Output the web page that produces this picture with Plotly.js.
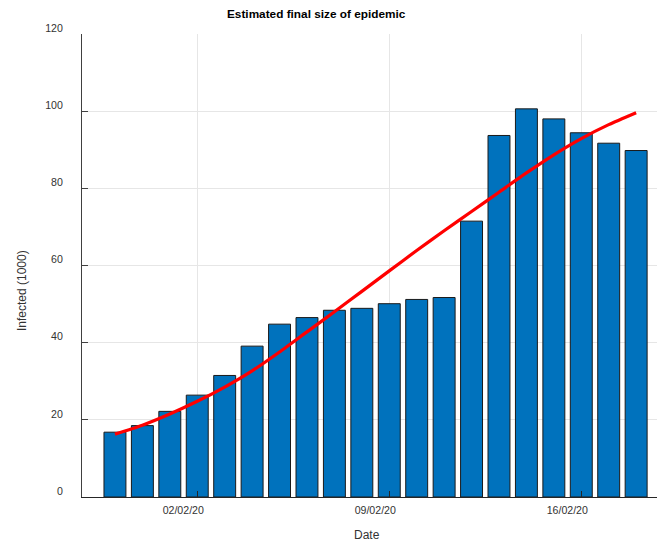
<!DOCTYPE html>
<html>
<head>
<meta charset="utf-8">
<script src="https://cdn.plot.ly/plotly-3.0.1.min.js"></script>
<style>
  html, body { margin: 0; padding: 0; background: #ffffff; }
  #chart { width: 657px; height: 541px; }
</style>
</head>
<body>
<div id="chart"></div>
<script>
// Daily reports, 30 Jan – 18 Feb 2020
const dates = [
  '2020-01-30', '2020-01-31', '2020-02-01', '2020-02-02', '2020-02-03',
  '2020-02-04', '2020-02-05', '2020-02-06', '2020-02-07', '2020-02-08',
  '2020-02-09', '2020-02-10', '2020-02-11', '2020-02-12', '2020-02-13',
  '2020-02-14', '2020-02-15', '2020-02-16', '2020-02-17', '2020-02-18'
];
// Estimated final size of the epidemic on each day (thousands)
const infected = [
  16.8, 18.5, 22.2, 26.4, 31.5, 39.1, 44.8, 46.5, 48.4, 48.9,
  50.1, 51.2, 51.7, 71.5, 93.7, 100.6, 98.0, 94.4, 91.7, 89.8
];
// Smoothed trend (thousands)
const trend = [
  16.3, 18.6, 21.5, 24.8, 28.5, 32.7, 37.6, 42.8, 48.0, 53.3,
  58.6, 63.9, 69.0, 74.0, 79.0, 84.0, 88.7, 92.9, 96.5, 99.6
];
const tickDates = ['2020-02-02', '2020-02-09', '2020-02-16'];
const tickLabels = ['02/02/20', '09/02/20', '16/02/20'];
const yTicks = [0, 20, 40, 60, 80, 100, 120];

const DAY = 86400000;
const FONT = 'Liberation Sans, Arial, Helvetica, sans-serif';

const traces = [
  {
    type: 'bar',
    x: dates,
    y: infected,
    width: dates.map(() => 0.8 * DAY),
    marker: { color: '#0072bd', line: { color: '#1a1a1a', width: 1 } },
    hoverinfo: 'x+y'
  },
  {
    type: 'scatter',
    mode: 'lines',
    x: dates,
    y: trend,
    line: { color: '#ff0000', width: 3.2, shape: 'spline', smoothing: 0.6 },
    hoverinfo: 'x+y'
  }
];

const layout = {
  width: 657,
  height: 541,
  margin: { l: 82, r: 0, t: 34, b: 44, pad: 0 },
  paper_bgcolor: '#ffffff',
  plot_bgcolor: '#ffffff',
  showlegend: false,
  font: { family: FONT, color: '#262626', size: 10.6 },
  bargap: 0,
  xaxis: {
    type: 'date',
    range: ['2020-01-28 19:10', '2020-02-18 18:15'],
    tickmode: 'array',
    tickvals: tickDates,
    ticktext: tickLabels,
    ticks: 'inside',
    ticklen: 6,
    tickcolor: '#262626',
    ticklabelshift: -14,
    ticklabelstandoff: 3,
    tickfont: { family: FONT, size: 10.6, color: '#333333' },
    showgrid: true,
    gridcolor: '#e6e6e6',
    gridwidth: 1,
    showline: true,
    linecolor: '#262626',
    linewidth: 1,
    zeroline: false,
    fixedrange: true
  },
  yaxis: {
    range: [0, 120],
    tickmode: 'array',
    tickvals: yTicks,
    ticktext: yTicks.map(String),
    ticks: 'inside',
    ticklen: 6,
    tickcolor: '#404040',
    ticklabelshift: -6,
    ticklabelstandoff: 16,
    tickfont: { family: FONT, size: 10.6, color: '#333333' },
    showgrid: true,
    gridcolor: '#e6e6e6',
    gridwidth: 1,
    showline: true,
    linecolor: '#404040',
    linewidth: 1,
    zeroline: false,
    fixedrange: true
  },
  annotations: [
    {
      text: '<b>Estimated final size of epidemic</b>',
      xref: 'paper', yref: 'paper',
      x: (316 - 82) / 575, y: 1 + 20 / 463,
      xanchor: 'center', yanchor: 'middle',
      showarrow: false,
      font: { family: FONT, size: 11.8, color: '#000000' }
    },
    {
      text: 'Date',
      xref: 'paper', yref: 'paper',
      x: (367 - 82) / 575, y: -38 / 463,
      xanchor: 'center', yanchor: 'middle',
      showarrow: false,
      font: { family: FONT, size: 12, color: '#333333' }
    },
    {
      text: 'Infected (1000)',
      xref: 'paper', yref: 'paper',
      x: (22 - 82) / 575, y: (497 - 291) / 463,
      xanchor: 'center', yanchor: 'middle',
      textangle: -90,
      showarrow: false,
      font: { family: FONT, size: 12, color: '#333333' }
    }
  ]
};

Plotly.newPlot('chart', traces, layout, { displayModeBar: false, staticPlot: true });
</script>
</body>
</html>
